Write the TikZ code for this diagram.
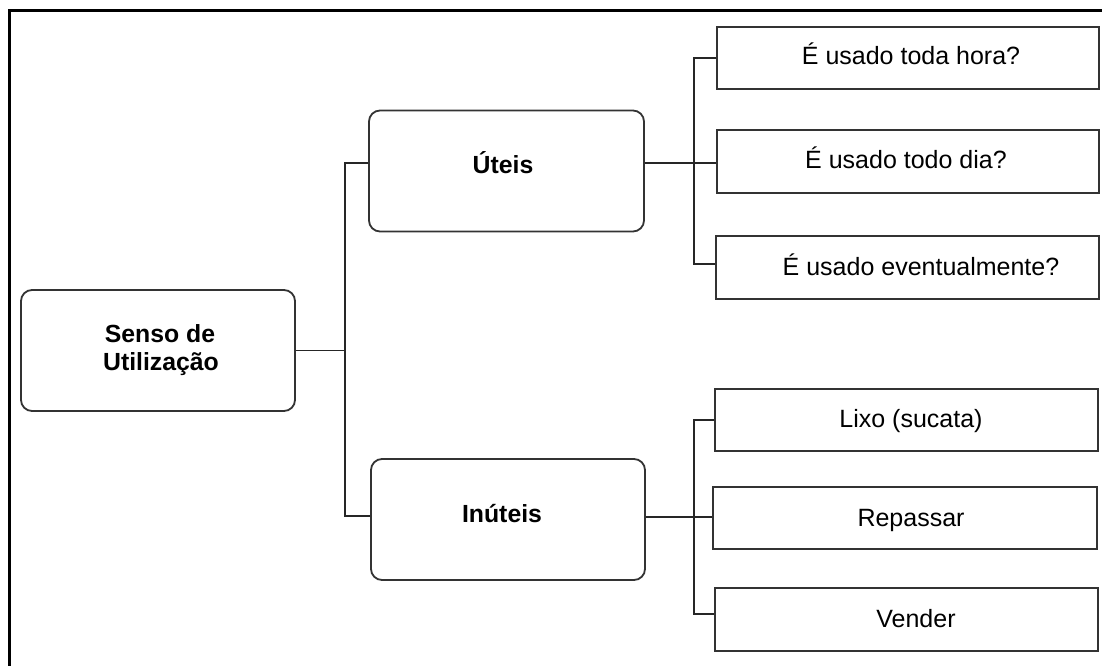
\documentclass[tikz,border=0pt]{standalone}
\usepackage{fontspec}
\setmainfont{Liberation Sans}
\begin{document}
\begin{tikzpicture}[x=1pt,y=-1pt,
  line join=miter,
  roundbox/.style={draw=black!80, line width=1.8pt, rounded corners=11pt,
    inner sep=0pt, minimum width=#1, minimum height=121pt},
  leafbox/.style={draw=black!80, line width=1.8pt, inner sep=0pt,
    minimum width=382pt, minimum height=62pt},
  boldtxt/.style={font=\fontsize{24.8}{28}\selectfont\bfseries, anchor=base,
    inner sep=0pt, align=center},
  plaintxt/.style={font=\fontsize{25}{28}\selectfont, anchor=base, inner sep=0pt},
  link/.style={draw=black!85, line width=1.8pt}]
\useasboundingbox (0,0) rectangle (1102,666);

% outer frame (top and left edges)
\draw[line width=3.8pt, line cap=rect] (9.5,668) -- (9.5,10.5) -- (1104,10.5);

% root
\node[roundbox=274pt] (senso) at (158,350.5) {};
\node[boldtxt] (sensoA) at (160,342) {Senso de};
\node[boldtxt] (sensoB) at (161,370) {Utilização};

% second level
\node[roundbox=275pt] (uteis) at (506.5,171) {};
\node[boldtxt] (uteisT) at (503,173) {Úteis};
\node[roundbox=274pt] (inuteis) at (508,519.5) {};
\node[boldtxt] (inuteisT) at (502,522) {Inúteis};

% leaves of the upper branch
\node[leafbox] (b1) at (908,58) {};
\node[plaintxt] (b1T) at (911,65) {É usado toda hora?};
\node[leafbox, minimum height=63pt] (b2) at (908,161.5) {};
\node[plaintxt] (b2T) at (906,168) {É usado todo dia?};
\node[leafbox, minimum width=383pt, minimum height=63pt] (b3) at (907.5,267.5) {};
\node[plaintxt] (b3T) at (921,275) {É usado eventualmente?};

% leaves of the lower branch
\node[leafbox, minimum width=383pt] (l1) at (906.5,420) {};
\node[plaintxt] (l1T) at (911,427) {Lixo (sucata)};
\node[leafbox, minimum width=384pt] (l2) at (905,518) {};
\node[plaintxt] (l2T) at (911,526) {Repassar};
\node[leafbox, minimum width=383pt, minimum height=63pt] (l3) at (906.5,619.5) {};
\node[plaintxt] (l3T) at (916,627) {Vender};

% junction points of the elbow connectors
\coordinate (jroot) at (345,350.5);
\coordinate (jup) at (694,163);
\coordinate (jdown) at (694,517);

% root to second level
\draw[link] (senso.east) -- (jroot);
\draw[link] ([yshift=8pt]uteis.west) -| (jroot) |- ([yshift=3.5pt]inuteis.west);

% upper branch
\draw[link] ([yshift=8pt]uteis.east) -- (jup) -- (b2.west |- jup);
\draw[link] (b1.west) -| (jup) |- ([yshift=3.5pt]b3.west);

% lower branch
\draw[link] ([yshift=2.5pt]inuteis.east) -- (jdown) -- (l2.west |- jdown);
\draw[link] (l1.west) -| (jdown) |- ([yshift=5.5pt]l3.west);
\end{tikzpicture}
\end{document}
